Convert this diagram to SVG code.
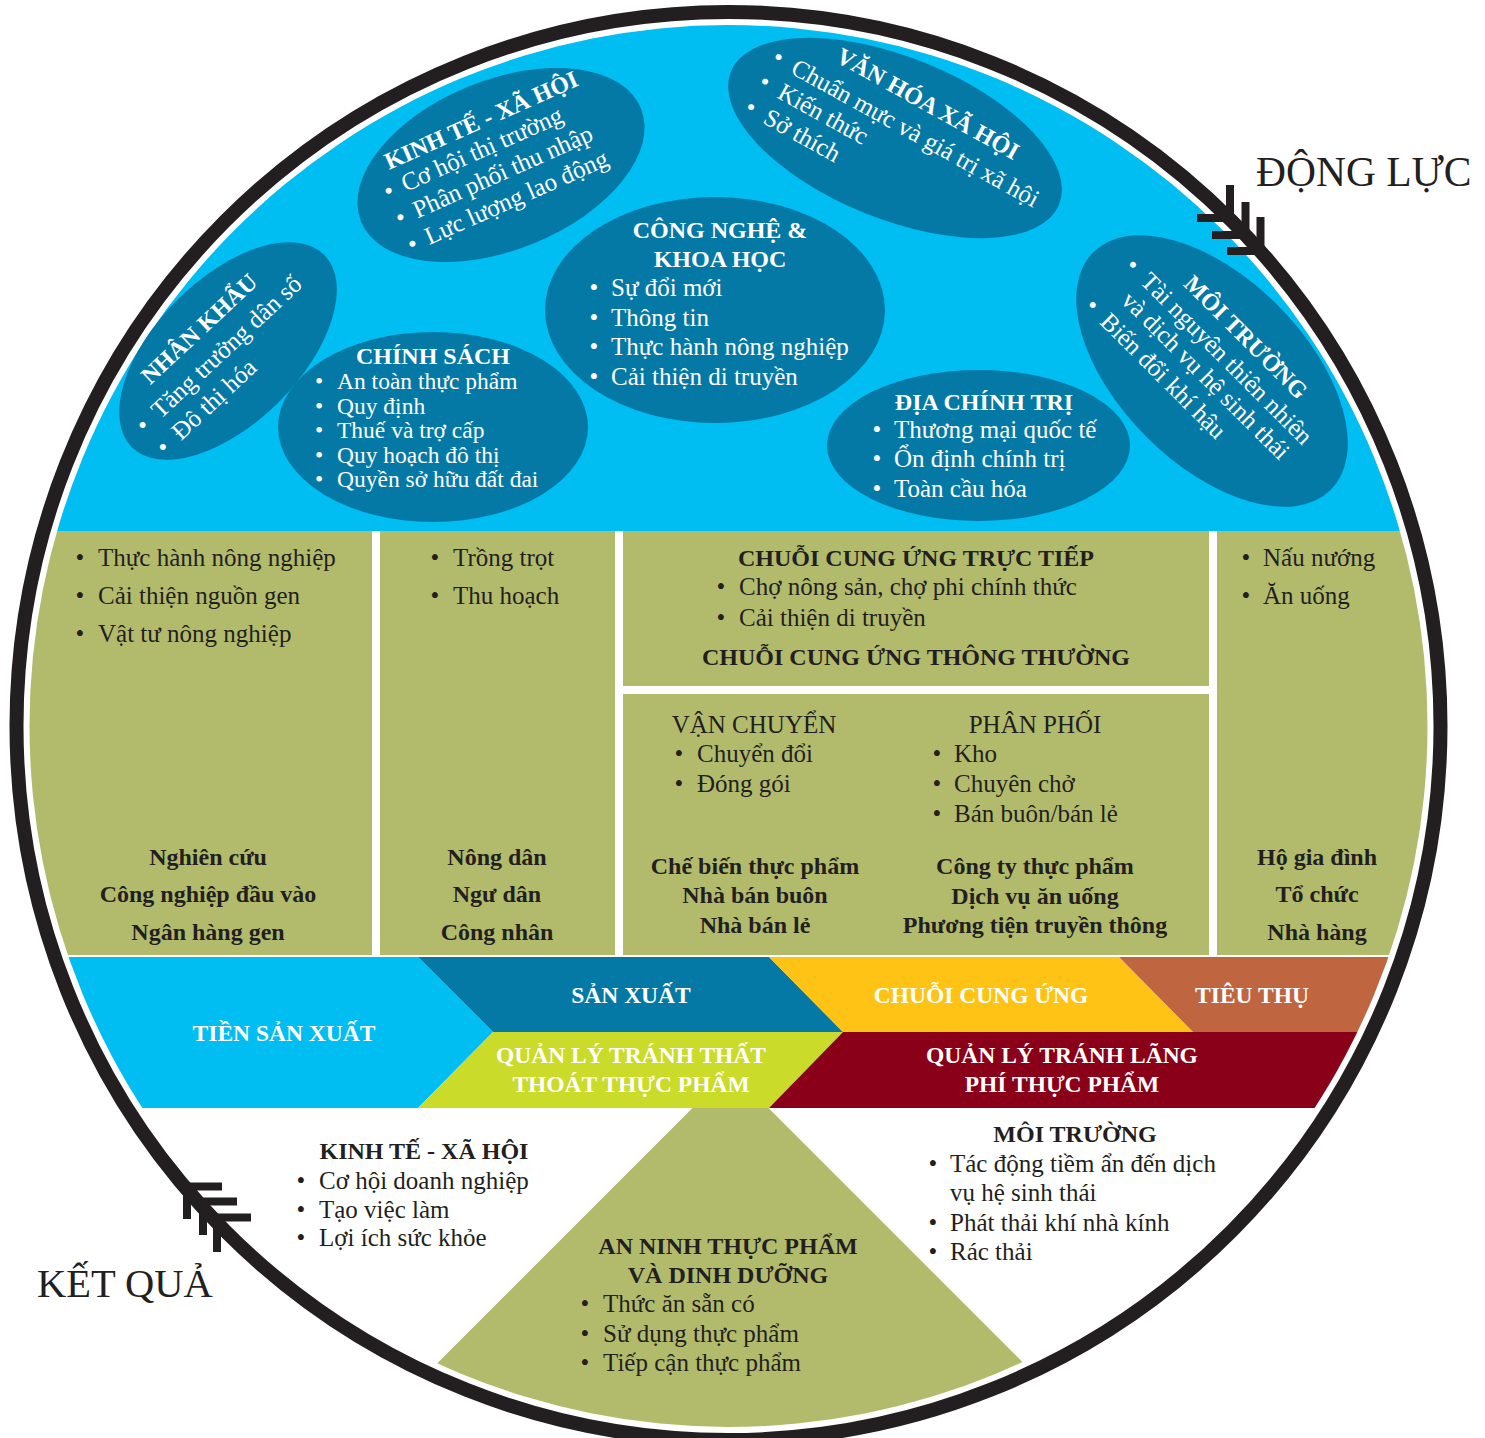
<svg xmlns="http://www.w3.org/2000/svg" width="1485" height="1438" viewBox="0 0 1485 1438">
  <defs>
    <style>
      text { font-family: "Liberation Serif", "Times New Roman", serif; }
      .t { font-size: 25px; fill: #231F20; }
      .b { font-size: 24px; font-weight: bold; fill: #231F20; }
      .w { font-size: 25px; fill: #FFFFFF; }
      .ws { font-size: 23.5px; fill: #FFFFFF; }
      .wb { font-size: 24px; font-weight: bold; fill: #FFFFFF; }
      .band { font-size: 23.5px; font-weight: bold; fill: #FFFFFF; text-anchor: middle; }
      .big { font-size: 41.5px; fill: #231F20; }
      .m { text-anchor: middle; }
      .oval { fill: #0479A6; }
      .green { fill: #B2BB6C; }
      .mark { fill: none; stroke: #231F20; stroke-width: 8; stroke-linejoin: miter; stroke-linecap: butt; }
    </style>
    <clipPath id="disc">
      <ellipse cx="728.5" cy="726" rx="699" ry="701"/>
    </clipPath>
  </defs>

  <rect width="1485" height="1438" fill="#FFFFFF"/>

  <!-- disc background: drivers (cyan), outcomes (white) -->
  <g id="disc-background" clip-path="url(#disc)">
    <rect x="0" y="0" width="1485" height="1438" fill="#FFFFFF"/>
    <rect x="0" y="0" width="1485" height="531" fill="#00BDF2"/>
  </g>

  <!-- ===== Drivers ===== -->
  <g id="driver-nhan-khau" transform="translate(228,351)">
    <ellipse class="oval" rx="136" ry="72" transform="rotate(-45)"/>
    <g transform="rotate(-43)">
      <text class="wb m" x="-6" y="-28">NHÂN KHẨU</text>
      <text class="w m" x="-113" y="4">•</text>
      <text class="w" x="-96" y="4">Tăng trưởng dân số</text>
      <text class="w m" x="-113" y="34">•</text>
      <text class="w" x="-96" y="34">Đô thị hóa</text>
    </g>
  </g>

  <g id="driver-kinh-te" transform="translate(501,165)">
    <ellipse class="oval" rx="151" ry="85" transform="rotate(-22)"/>
    <g transform="rotate(-24)">
      <text class="wb m" x="0" y="-41">KINH TẾ - XÃ HỘI</text>
      <text class="w m" x="-113" y="-14">•</text>
      <text class="w" x="-98" y="-14">Cơ hội thị trường</text>
      <text class="w m" x="-113" y="15">•</text>
      <text class="w" x="-98" y="15">Phân phối thu nhập</text>
      <text class="w m" x="-113" y="44">•</text>
      <text class="w" x="-98" y="44">Lực lượng lao động</text>
    </g>
  </g>

  <g id="driver-van-hoa" transform="translate(895,138)">
    <ellipse class="oval" rx="177" ry="81" transform="rotate(22)"/>
    <g transform="rotate(29)">
      <text class="wb m" x="12" y="-38">VĂN HÓA XÃ HỘI</text>
      <text class="w m" x="-141" y="-6">•</text>
      <text class="w" x="-124" y="-6">Chuẩn mực và giá trị xã hội</text>
      <text class="w m" x="-141" y="22">•</text>
      <text class="w" x="-124" y="22">Kiến thức</text>
      <text class="w m" x="-141" y="51">•</text>
      <text class="w" x="-124" y="51">Sở thích</text>
    </g>
  </g>

  <g id="driver-cong-nghe">
    <ellipse class="oval" cx="715" cy="310" rx="170" ry="113"/>
    <text class="wb m" x="720" y="238">CÔNG NGHỆ &amp;</text>
    <text class="wb m" x="720" y="267">KHOA HỌC</text>
    <text class="w m" x="594" y="296">•</text>
    <text class="w" x="611" y="296">Sự đổi mới</text>
    <text class="w m" x="594" y="326">•</text>
    <text class="w" x="611" y="326">Thông tin</text>
    <text class="w m" x="594" y="355">•</text>
    <text class="w" x="611" y="355">Thực hành nông nghiệp</text>
    <text class="w m" x="594" y="385">•</text>
    <text class="w" x="611" y="385">Cải thiện di truyền</text>
  </g>

  <g id="driver-chinh-sach">
    <ellipse class="oval" cx="433" cy="427" rx="155" ry="95"/>
    <text class="wb m" x="433" y="364">CHÍNH SÁCH</text>
    <text class="ws m" x="319" y="389">•</text>
    <text class="ws" x="337" y="389">An toàn thực phẩm</text>
    <text class="ws m" x="319" y="413.5">•</text>
    <text class="ws" x="337" y="413.5">Quy định</text>
    <text class="ws m" x="319" y="438">•</text>
    <text class="ws" x="337" y="438">Thuế và trợ cấp</text>
    <text class="ws m" x="319" y="462.5">•</text>
    <text class="ws" x="337" y="462.5">Quy hoạch đô thị</text>
    <text class="ws m" x="319" y="487">•</text>
    <text class="ws" x="337" y="487">Quyền sở hữu đất đai</text>
  </g>

  <g id="driver-dia-chinh-tri">
    <ellipse class="oval" cx="978.5" cy="445.5" rx="151.5" ry="75.5"/>
    <text class="wb m" x="984" y="410">ĐỊA CHÍNH TRỊ</text>
    <text class="w m" x="877" y="438">•</text>
    <text class="w" x="894" y="438">Thương mại quốc tế</text>
    <text class="w m" x="877" y="467">•</text>
    <text class="w" x="894" y="467">Ổn định chính trị</text>
    <text class="w m" x="877" y="497">•</text>
    <text class="w" x="894" y="497">Toàn cầu hóa</text>
  </g>

  <g id="driver-moi-truong" transform="translate(1212,371)">
    <ellipse class="oval" rx="168" ry="93" transform="rotate(45)"/>
    <g transform="rotate(45)">
      <text class="wb m" x="0" y="-40">MÔI TRƯỜNG</text>
      <text class="w m" x="-131" y="-11">•</text>
      <text class="w" x="-114" y="-11">Tài nguyên thiên nhiên</text>
      <text class="w" x="-114" y="16">và dịch vụ hệ sinh thái</text>
      <text class="w m" x="-131" y="46">•</text>
      <text class="w" x="-114" y="46">Biến đổi khí hậu</text>
    </g>
  </g>

  <!-- ===== Stage columns ===== -->
  <g id="col-tien-san-xuat">
    <rect class="green" x="0" y="531" width="372" height="424" clip-path="url(#disc)"/>
    <text class="t m" x="80" y="566">•</text>
    <text class="t" x="98" y="566">Thực hành nông nghiệp</text>
    <text class="t m" x="80" y="604">•</text>
    <text class="t" x="98" y="604">Cải thiện nguồn gen</text>
    <text class="t m" x="80" y="642">•</text>
    <text class="t" x="98" y="642">Vật tư nông nghiệp</text>
    <text class="b m" x="208" y="865">Nghiên cứu</text>
    <text class="b m" x="208" y="902">Công nghiệp đầu vào</text>
    <text class="b m" x="208" y="940">Ngân hàng gen</text>
  </g>

  <g id="col-san-xuat">
    <rect class="green" x="380" y="531" width="235" height="424"/>
    <text class="t m" x="435" y="566">•</text>
    <text class="t" x="453" y="566">Trồng trọt</text>
    <text class="t m" x="435" y="604">•</text>
    <text class="t" x="453" y="604">Thu hoạch</text>
    <text class="b m" x="497" y="865">Nông dân</text>
    <text class="b m" x="497" y="902">Ngư dân</text>
    <text class="b m" x="497" y="940">Công nhân</text>
  </g>

  <g id="col-chuoi-truc-tiep">
    <rect class="green" x="623" y="531" width="586" height="155"/>
    <text class="b m" x="916" y="566">CHUỖI CUNG ỨNG TRỰC TIẾP</text>
    <text class="t m" x="721" y="595">•</text>
    <text class="t" x="739" y="595">Chợ nông sản, chợ phi chính thức</text>
    <text class="t m" x="721" y="626">•</text>
    <text class="t" x="739" y="626">Cải thiện di truyền</text>
    <text class="b m" x="916" y="665">CHUỖI CUNG ỨNG THÔNG THƯỜNG</text>
  </g>

  <g id="col-chuoi-thong-thuong">
    <rect class="green" x="623" y="694" width="586" height="261"/>
    <text class="t m" x="754" y="733">VẬN CHUYỂN</text>
    <text class="t m" x="679" y="762">•</text>
    <text class="t" x="697" y="762">Chuyển đổi</text>
    <text class="t m" x="679" y="792">•</text>
    <text class="t" x="697" y="792">Đóng gói</text>
    <text class="t m" x="1035" y="733">PHÂN PHỐI</text>
    <text class="t m" x="937" y="762">•</text>
    <text class="t" x="954" y="762">Kho</text>
    <text class="t m" x="937" y="792">•</text>
    <text class="t" x="954" y="792">Chuyên chở</text>
    <text class="t m" x="937" y="822">•</text>
    <text class="t" x="954" y="822">Bán buôn/bán lẻ</text>
    <text class="b m" x="755" y="874">Chế biến thực phẩm</text>
    <text class="b m" x="755" y="903">Nhà bán buôn</text>
    <text class="b m" x="755" y="933">Nhà bán lẻ</text>
    <text class="b m" x="1035" y="874">Công ty thực phẩm</text>
    <text class="b m" x="1035" y="904">Dịch vụ ăn uống</text>
    <text class="b m" x="1035" y="933">Phương tiện truyền thông</text>
  </g>

  <g id="col-tieu-thu">
    <rect class="green" x="1217" y="531" width="268" height="424" clip-path="url(#disc)"/>
    <text class="t m" x="1246" y="566">•</text>
    <text class="t" x="1263" y="566">Nấu nướng</text>
    <text class="t m" x="1246" y="604">•</text>
    <text class="t" x="1263" y="604">Ăn uống</text>
    <text class="b m" x="1317" y="865">Hộ gia đình</text>
    <text class="b m" x="1317" y="902">Tổ chức</text>
    <text class="b m" x="1317" y="940">Nhà hàng</text>
  </g>

  <!-- ===== Outcome: food security wedge (behind the stage band) ===== -->
  <g id="outcome-an-ninh">
    <polygon class="green" points="730.5,1070 230.5,1570 1230.5,1570" clip-path="url(#disc)"/>
    <text class="b m" x="728" y="1254">AN NINH THỰC PHẨM</text>
    <text class="b m" x="728" y="1283">VÀ DINH DƯỠNG</text>
    <text class="t m" x="585" y="1312">•</text>
    <text class="t" x="603" y="1312">Thức ăn sẵn có</text>
    <text class="t m" x="585" y="1342">•</text>
    <text class="t" x="603" y="1342">Sử dụng thực phẩm</text>
    <text class="t m" x="585" y="1371">•</text>
    <text class="t" x="603" y="1371">Tiếp cận thực phẩm</text>
  </g>

  <!-- ===== Stage band ===== -->
  <g id="stage-tien-san-xuat">
    <polygon points="0,957 418,957 493,1032 418,1108 0,1108" fill="#00BDF2" clip-path="url(#disc)"/>
    <text class="band" x="284" y="1041">TIỀN SẢN XUẤT</text>
  </g>
  <g id="stage-san-xuat">
    <polygon points="418,957 769,957 843,1032 493,1032" fill="#0479A6"/>
    <text class="band" x="631" y="1003">SẢN XUẤT</text>
  </g>
  <g id="stage-chuoi-cung-ung">
    <polygon points="769,957 1119,957 1193,1032 843,1032" fill="#FEC314"/>
    <text class="band" x="981" y="1003">CHUỖI CUNG ỨNG</text>
  </g>
  <g id="stage-tieu-thu">
    <polygon points="1119,957 1485,957 1485,1032 1193,1032" fill="#BF6641" clip-path="url(#disc)"/>
    <text class="band" x="1252" y="1003">TIÊU THỤ</text>
  </g>
  <g id="stage-that-thoat">
    <polygon points="493,1032 843,1032 769,1108 418,1108" fill="#CADB2A"/>
    <text class="band" x="631" y="1063">QUẢN LÝ TRÁNH THẤT</text>
    <text class="band" x="631" y="1092">THOÁT THỰC PHẨM</text>
  </g>
  <g id="stage-lang-phi">
    <polygon points="843,1032 1485,1032 1485,1108 769,1108" fill="#8A0019" clip-path="url(#disc)"/>
    <text class="band" x="1062" y="1063">QUẢN LÝ TRÁNH LÃNG</text>
    <text class="band" x="1062" y="1092">PHÍ THỰC PHẨM</text>
  </g>

  <!-- ===== Outcomes ===== -->
  <g id="outcome-kinh-te">
    <text class="b m" x="424" y="1159">KINH TẾ - XÃ HỘI</text>
    <text class="t m" x="301" y="1189">•</text>
    <text class="t" x="319" y="1189">Cơ hội doanh nghiệp</text>
    <text class="t m" x="301" y="1218">•</text>
    <text class="t" x="319" y="1218">Tạo việc làm</text>
    <text class="t m" x="301" y="1246">•</text>
    <text class="t" x="319" y="1246">Lợi ích sức khỏe</text>
  </g>

  <g id="outcome-moi-truong">
    <text class="b m" x="1075" y="1142">MÔI TRƯỜNG</text>
    <text class="t m" x="933" y="1172">•</text>
    <text class="t" x="950" y="1172">Tác động tiềm ẩn đến dịch</text>
    <text class="t" x="950" y="1201">vụ hệ sinh thái</text>
    <text class="t m" x="933" y="1231">•</text>
    <text class="t" x="950" y="1231">Phát thải khí nhà kính</text>
    <text class="t m" x="933" y="1260">•</text>
    <text class="t" x="950" y="1260">Rác thải</text>
  </g>

  <!-- ===== Cycle ring with direction marks ===== -->
  <g id="connectors">
    <ellipse cx="728.5" cy="726" rx="712" ry="714" fill="none" stroke="#231F20" stroke-width="14"/>
    <path class="mark" d="M1230,185 V218 H1197"/>
    <path class="mark" d="M1245.5,202 V235 H1212"/>
    <path class="mark" d="M1260.5,217 V251 H1227"/>
    <path class="mark" d="M222,1186.5 H187 V1219"/>
    <path class="mark" d="M237,1201.5 H203 V1235"/>
    <path class="mark" d="M251,1217.5 H217 V1252"/>
  </g>

  <g id="label-dong-luc">
    <text class="big" x="1256" y="186">ĐỘNG LỰC</text>
  </g>
  <g id="label-ket-qua">
    <text class="big" x="37" y="1297" style="font-size:40.5px">KẾT QUẢ</text>
  </g>
</svg>
